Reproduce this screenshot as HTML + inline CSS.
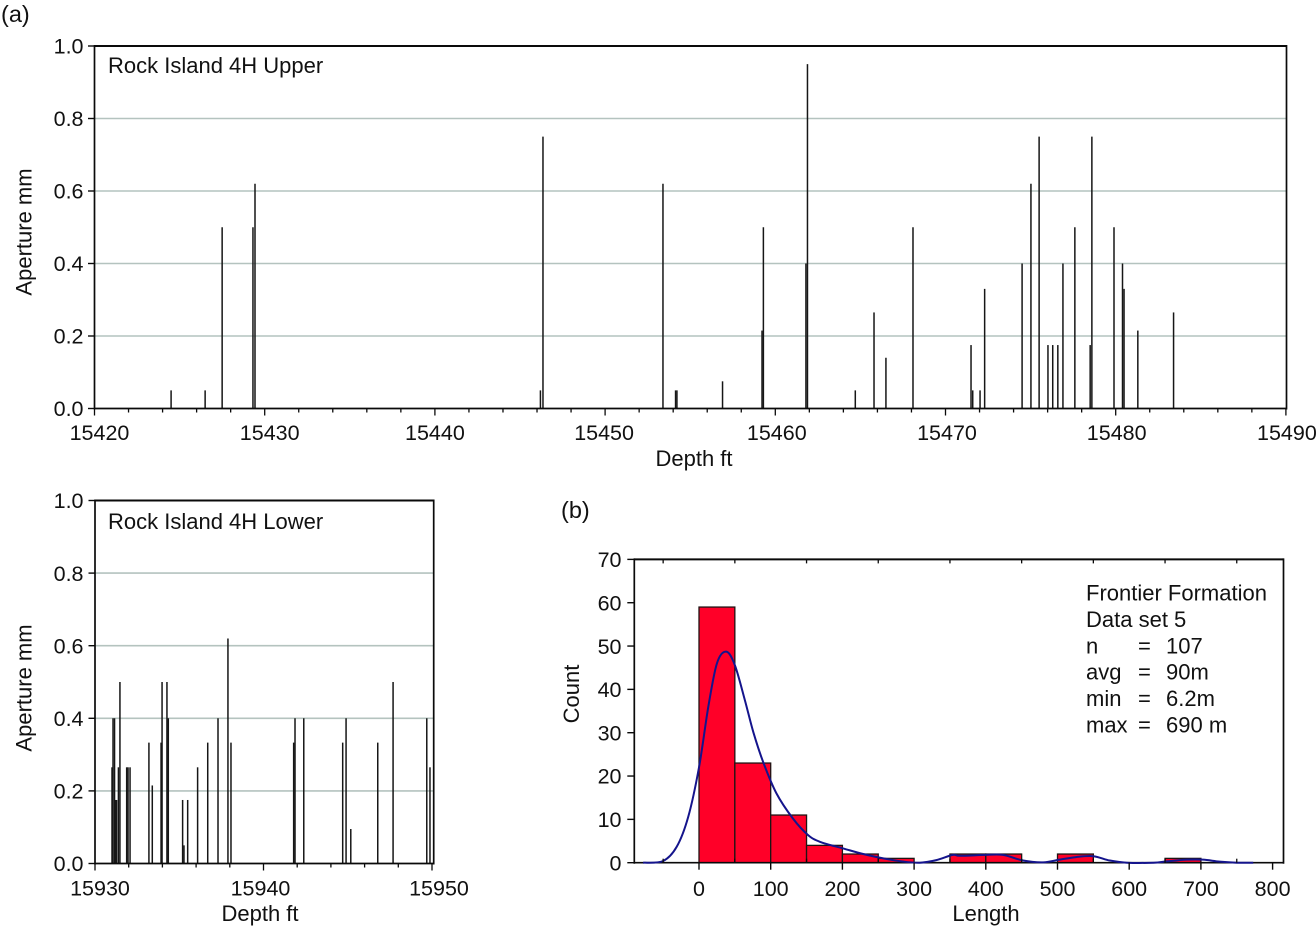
<!DOCTYPE html>
<html lang="en">
<head>
<meta charset="utf-8">
<title>Rock Island 4H aperture and Frontier Formation length charts</title>
<style>
  html, body { margin: 0; padding: 0; background: #ffffff; }
  svg { display: block; }
  text { font-family: "Liberation Sans", Arial, sans-serif; fill: #111111; font-size: 21.5px; }
  text.title { font-size: 22px; }
  text.panel { font-size: 23.5px; }
</style>
</head>
<body>
<svg id="figure" xmlns="http://www.w3.org/2000/svg" width="1316" height="927" viewBox="0 0 1316 927">
  <rect x="0" y="0" width="1316" height="927" fill="#ffffff"/>
  <text class="panel" x="1" y="22">(a)</text>
  <text class="panel" x="561" y="518">(b)</text>
  <text class="title" x="108" y="73">Rock Island 4H Upper</text>
  <text class="title" x="108" y="529">Rock Island 4H Lower</text>
  <text class="title" x="694" y="466" text-anchor="middle">Depth ft</text>
  <text class="title" x="260" y="921" text-anchor="middle">Depth ft</text>
  <text class="title" x="986" y="921" text-anchor="middle">Length</text>
  <text class="title" transform="translate(31.5,232) rotate(-90)" text-anchor="middle">Aperture mm</text>
  <text class="title" transform="translate(31.5,688) rotate(-90)" text-anchor="middle">Aperture mm</text>
  <text class="title" transform="translate(579,694) rotate(-90)" text-anchor="middle">Count</text>
  <g id="upper-chart"></g>
  <g id="lower-chart"></g>
  <g id="hist-chart"></g>
  <g>
    <text class="title" x="1086" y="600.5">Frontier Formation</text>
    <text class="title" x="1086" y="627">Data set 5</text>
    <text class="title" x="1086" y="653.5">n</text>
    <text class="title" x="1138" y="653.5">=</text>
    <text class="title" x="1166" y="653.5">107</text>
    <text class="title" x="1086" y="679.5">avg</text>
    <text class="title" x="1138" y="679.5">=</text>
    <text class="title" x="1166" y="679.5">90m</text>
    <text class="title" x="1086" y="706">min</text>
    <text class="title" x="1138" y="706">=</text>
    <text class="title" x="1166" y="706">6.2m</text>
    <text class="title" x="1086" y="732.5">max</text>
    <text class="title" x="1138" y="732.5">=</text>
    <text class="title" x="1166" y="732.5">690 m</text>
  </g>
</svg>
<script>
// ---- data ----
const upperDepths = [15424.5, 15426.5, 15427.5, 15429.31, 15429.43, 15446.2, 15446.35, 15453.4, 15454.14, 15454.22, 15456.9, 15459.22, 15459.3, 15461.8, 15461.89, 15464.7, 15465.8, 15466.5, 15468.09, 15471.5, 15471.6, 15472.03, 15472.3, 15474.5, 15475.02, 15475.5, 15476.02, 15476.3, 15476.6, 15476.9, 15477.6, 15478.5, 15478.6, 15479.9, 15480.4, 15480.49, 15481.3, 15483.4];
const upperApertures = [0.05, 0.05, 0.5, 0.5, 0.62, 0.05, 0.75, 0.62, 0.05, 0.05, 0.075, 0.215, 0.5, 0.4, 0.95, 0.05, 0.265, 0.14, 0.5, 0.175, 0.05, 0.05, 0.33, 0.4, 0.62, 0.75, 0.175, 0.175, 0.175, 0.4, 0.5, 0.175, 0.75, 0.5, 0.4, 0.33, 0.215, 0.265];
const lowerDepths = [15931.01, 15931.07, 15931.16, 15931.22, 15931.28, 15931.39, 15931.48, 15931.88, 15931.96, 15932.08, 15933.2, 15933.4, 15933.92, 15933.98, 15934.27, 15934.35, 15935.2, 15935.28, 15935.5, 15936.09, 15936.69, 15937.3, 15937.89, 15938.07, 15941.79, 15941.87, 15942.39, 15944.7, 15944.9, 15945.18, 15946.78, 15947.69, 15949.69, 15949.88];
const lowerApertures = [0.265, 0.4, 0.4, 0.175, 0.175, 0.265, 0.5, 0.265, 0.265, 0.265, 0.333, 0.215, 0.333, 0.5, 0.5, 0.4, 0.175, 0.05, 0.175, 0.265, 0.333, 0.4, 0.62, 0.333, 0.333, 0.4, 0.4, 0.333, 0.4, 0.095, 0.333, 0.5, 0.4, 0.265];
const apertureTicks = ['0.0', '0.2', '0.4', '0.6', '0.8', '1.0'];
const apertureGrid = [0.2, 0.4, 0.6, 0.8];
const upperDepthTicks = ['15420', '15430', '15440', '15450', '15460', '15470', '15480', '15490'];
const lowerDepthTicks = ['15930', '15940', '15950'];
const binStarts = [0, 50, 100, 150, 200, 250, 350, 400, 500, 650];
const binCounts = [59, 23, 11, 4, 2, 1, 2, 2, 2, 1];
const binWidth = 50;
const curveLengths = [-78, -50, -31, -15, 0, 13, 25, 38, 50, 64, 76, 90, 108, 131, 152, 169, 201, 229, 257, 285, 308, 331, 354, 364, 400, 424, 452, 480, 503, 526, 550, 573, 597, 634, 652, 680, 703, 726, 750, 773];
const curveCounts = [0, 0.4, 3.7, 10.6, 22, 36, 46, 48.7, 45.6, 37.5, 30, 23, 16, 10.2, 6.4, 4.8, 3.3, 2, 1, 0.25, 0, 0.6, 1.8, 1.6, 1.8, 1.8, 0.5, 0.08, 0.7, 1.3, 1.5, 0.5, 0, 0, 0.3, 0.7, 0.7, 0.25, 0, 0];
const countTicks = ['0', '10', '20', '30', '40', '50', '60', '70'];
const lengthTicks = ['0', '100', '200', '300', '400', '500', '600', '700', '800'];

// ---- axis functions ----
const xUpper = v => 94.5 + (v - 15420) * 17.02;
const yUpper = v => 408.5 - v * 362.5;
const xLower = v => 95 + (v - 15930) * 16.85;
const yLower = v => 863.5 - v * 363;
const xHist = v => 699 + v * 0.717;
const yHist = v => 862.7 - v * 4.333;

const SVG_NS = 'http://www.w3.org/2000/svg';
const AXIS = '#0a0a0a';

function make(parent, tag, attrs) {
  const el = document.createElementNS(SVG_NS, tag);
  for (const k in attrs) el.setAttribute(k, attrs[k]);
  parent.appendChild(el);
  return el;
}

function line(parent, name, x1, y1, x2, y2, stroke, width) {
  const el = make(parent, 'line', { x1: x1, y1: y1, x2: x2, y2: y2, stroke: stroke, 'stroke-width': width });
  
  
  return el;
}

function label(parent, name, x, y, str, anchor) {
  const el = make(parent, 'text', { x: x, y: y, 'text-anchor': anchor });
  
  
  el.textContent = str;
  return el;
}

function frame(g, prefix, left, right, top, bottom) {
  line(g, prefix + '-left-spine', left, top - 1, left, bottom + 1, AXIS, 1.7);
  line(g, prefix + '-right-spine', right, top - 1, right, bottom + 1, AXIS, 1.7);
  line(g, prefix + '-top-spine', left, top, right, top, AXIS, 2);
  line(g, prefix + '-bottom-spine', left, bottom, right, bottom, AXIS, 1.7);
}

function drawAperture(g, prefix, xs, ys, depths, apertures, depthTicks, nudges, firstDepth, lastDepth, right, baseline) {
  const left = xs(firstDepth);
  const bottom = ys(0);
  const top = ys(1);
  apertureGrid.forEach(v => {
    line(g, prefix + '-gridline-' + v, left, ys(v), right, ys(v), '#b4c3bf', 1.6);
  });
  depths.forEach((d, i) => {
    line(g, prefix + '-aperture-stem-' + d, xs(d), ys(apertures[i]), xs(d), bottom, '#161616', 1.5);
  });
  frame(g, prefix, left, right, top, bottom);
  apertureTicks.forEach(t => {
    const y = ys(parseFloat(t));
    line(g, prefix + '-y-tick-' + t, left - 6.5, y, left, y, AXIS, 1.4);
    label(g, prefix + '-y-tick-label-' + t, 83.5, y + 7.7, t, 'end');
  });
  for (let d = firstDepth; d <= lastDepth; d += 2) {
    const major = (d % 10) === 0;
    line(g, prefix + '-x-tick-' + d, xs(d), bottom, xs(d), bottom + (major ? 7 : 4), AXIS, 1.3);
  }
  depthTicks.forEach((t, i) => {
    label(g, prefix + '-x-tick-label-' + t, xs(parseFloat(t)) + nudges[i], baseline, t, 'middle');
  });
}

function catmull(px, py) {
  let d = 'M' + px[0].toFixed(2) + ' ' + py[0].toFixed(2);
  for (let i = 0; i < px.length - 1; i++) {
    const i0 = Math.max(i - 1, 0), i3 = Math.min(i + 2, px.length - 1);
    const c1x = px[i] + (px[i + 1] - px[i0]) / 6;
    const c1y = py[i] + (py[i + 1] - py[i0]) / 6;
    const c2x = px[i + 1] - (px[i3] - px[i]) / 6;
    const c2y = py[i + 1] - (py[i3] - py[i]) / 6;
    d += 'C' + c1x.toFixed(2) + ' ' + c1y.toFixed(2) + ' ' + c2x.toFixed(2) + ' ' + c2y.toFixed(2) + ' ' + px[i + 1].toFixed(2) + ' ' + py[i + 1].toFixed(2);
  }
  return d;
}

function drawHistogram(g) {
  const left = 634.3, right = 1283.5, top = yHist(70), bottom = yHist(0);
  binStarts.forEach((s, i) => {
    const bar = make(g, 'rect', {
      x: xHist(s), y: yHist(binCounts[i]),
      width: xHist(s + binWidth) - xHist(s), height: bottom - yHist(binCounts[i]),
      fill: '#ff0028', stroke: '#1f1414', 'stroke-width': 1.3
    });
    
    
  });
  frame(g, 'histogram', left, right, top, bottom);
  const curve = make(g, 'path', {
    d: catmull(curveLengths.map(xHist), curveCounts.map(yHist)),
    fill: 'none', stroke: '#14148c', 'stroke-width': 2
  });
  
  
  countTicks.forEach(t => {
    const y = yHist(parseFloat(t));
    line(g, 'histogram-y-tick-' + t, left - 7, y, left, y, AXIS, 1.4);
    label(g, 'histogram-y-tick-label-' + t, 621.5, y + 7.7, t, 'end');
  });
  lengthTicks.forEach(t => {
    const x = xHist(parseFloat(t));
    line(g, 'histogram-x-tick-' + t, x, bottom, x, bottom + 7, AXIS, 1.4);
    label(g, 'histogram-x-tick-label-' + t, x, 896, t, 'middle');
  });
  for (let v = -50; v <= 750; v += 100) {
    line(g, 'histogram-top-minor-tick-' + v, xHist(v), top, xHist(v), top + 4, AXIS, 1.3);
    line(g, 'histogram-bottom-minor-tick-' + v, xHist(v), bottom - 4, xHist(v), bottom, AXIS, 1.3);
  }
}

drawAperture(document.getElementById('upper-chart'), 'upper', xUpper, yUpper, upperDepths, upperApertures,
  upperDepthTicks, [5, 5, 0, -1, 1.5, 1.5, 1, 1], 15420, 15490, 1286.5, 440);
drawAperture(document.getElementById('lower-chart'), 'lower', xLower, yLower, lowerDepths, lowerApertures,
  lowerDepthTicks, [5, -3, 7], 15930, 15950, 433.7, 895.5);
drawHistogram(document.getElementById('hist-chart'));
</script>
</body>
</html>
